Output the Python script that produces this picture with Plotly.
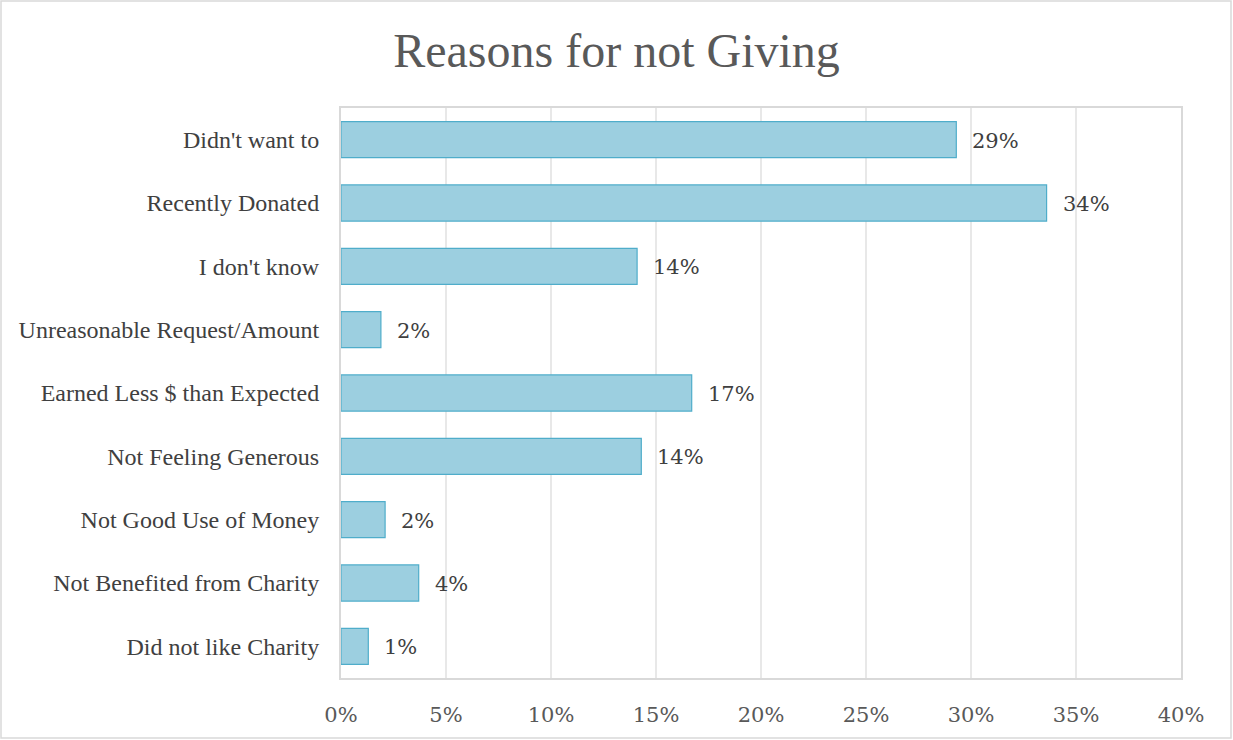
import plotly.graph_objects as go

# Survey responses: reasons given for not donating (share of respondents)
reasons = [
    "Didn't want to",
    "Recently Donated",
    "I don't know",
    "Unreasonable Request/Amount",
    "Earned Less $ than Expected",
    "Not Feeling Generous",
    "Not Good Use of Money",
    "Not Benefited from Charity",
    "Did not like Charity",
]
shares = [0.293, 0.336, 0.141, 0.019, 0.167, 0.143, 0.021, 0.037, 0.013]

x_ticks = [0, 0.05, 0.10, 0.15, 0.20, 0.25, 0.30, 0.35, 0.40]
x_tick_text = ["0%", "5%", "10%", "15%", "20%", "25%", "30%", "35%", "40%"]

W, H = 1233, 740
L, R, T, B = 341, 52, 108, 62
pw, ph = W - L - R, H - T - B

fig = go.Figure()
fig.add_trace(go.Bar(
    x=shares,
    y=reasons,
    orientation="h",
    width=0.57,
    marker=dict(color="#9ccfe0", line=dict(color="#4fadca", width=1.2)),
    hoverinfo="skip",
))

# value labels to the right of each bar
for r, v in zip(reasons, shares):
    fig.add_annotation(
        x=v, y=r, xref="x", yref="y",
        text=f"{v:.0%}", showarrow=False,
        xanchor="left", yanchor="middle", xshift=14, yshift=-1,
        font=dict(family="DejaVu Serif", size=21, color="#404040"),
    )

# outer chart border
fig.add_shape(
    type="rect", xref="paper", yref="paper",
    x0=(1 - L) / pw, x1=(W - L - 2) / pw,
    y0=-(B - 2) / ph, y1=1 + (T - 1) / ph,
    line=dict(color="#d9d9d9", width=1.5), fillcolor="rgba(0,0,0,0)", layer="below",
)

fig.update_layout(
    width=W, height=H,
    margin=dict(l=L, r=R, t=T, b=B, pad=0),
    paper_bgcolor="white",
    plot_bgcolor="white",
    showlegend=False,
    title=dict(
        text="Reasons for not Giving",
        x=0.5, xref="container", xanchor="center",
        y=1 - 50 / H, yref="container", yanchor="middle",
        font=dict(family="Liberation Serif", size=48, color="#595959"),
    ),
    xaxis=dict(
        range=[0, 0.40],
        tickvals=x_ticks, ticktext=x_tick_text,
        showgrid=True, gridcolor="#e8e8e8", gridwidth=1.5,
        showline=True, linecolor="#d9d9d9", linewidth=2, mirror=True,
        zeroline=False, ticks="", ticklabelstandoff=17,
        tickfont=dict(family="DejaVu Serif", size=21, color="#595959"),
    ),
    yaxis=dict(
        categoryorder="array", categoryarray=reasons[::-1],
        showgrid=False,
        showline=True, linecolor="#d9d9d9", linewidth=2, mirror=True,
        zeroline=False, ticks="", ticklabelstandoff=15,
        tickfont=dict(family="Liberation Serif", size=24, color="#404040"),
    ),
    bargap=0.43,
)

fig.write_html("out.html")
